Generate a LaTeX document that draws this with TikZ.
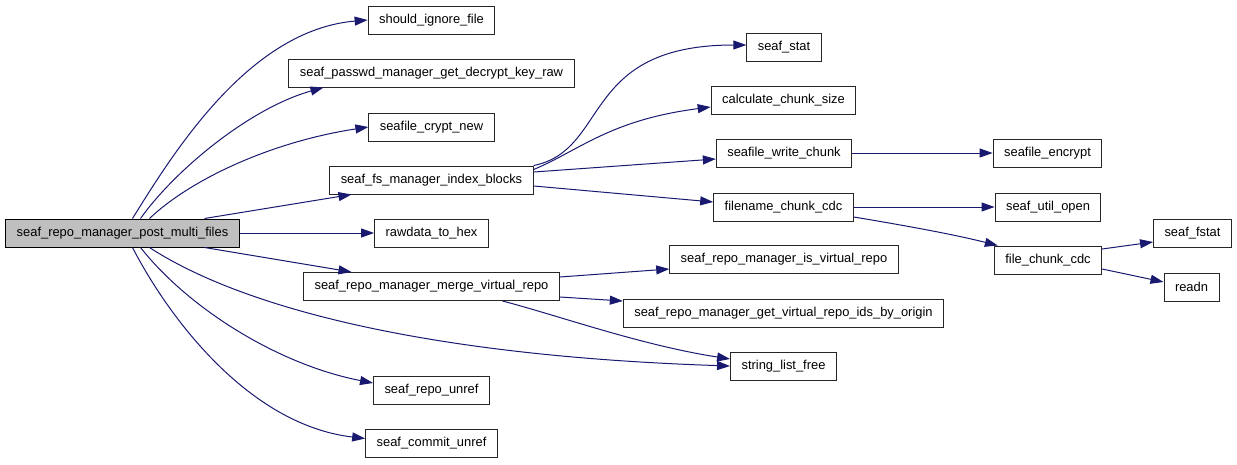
\documentclass[tikz,border=0pt]{standalone}
\usepackage{fontspec}
\setmainfont{Liberation Sans}
\usepackage{xcolor}
\usepackage{tikz}
\usetikzlibrary{
    positioning,
    arrows.meta,
}
\definecolor{edgeblue}{HTML}{191970}
\definecolor{boxgray}{HTML}{BFBFBF}
\tikzset{
    % Basic node styles
    fn/.style={rectangle, draw=black!85, line width=1pt, minimum height=28pt,
               inner xsep=11pt, inner ysep=0pt, fill=white,
               font=\fontsize{12.9}{15}\selectfont},
    root fn/.style={fn, fill=boxgray, draw=black},
    % Arrow styles
    call/.style={-{Triangle[length=13pt, width=9pt]}, line width=1pt, edgeblue},
}

\begin{document}
\begin{tikzpicture}[x=1pt, y=-1pt]
    \useasboundingbox (0,0) rectangle (1237,464);

    % caller
    \node[root fn] (post) at (122.5, 233) {seaf\_repo\_manager\_post\_multi\_files};

    % first level
    \node[fn] (ignore) at (431.5, 20) {should\_ignore\_file};
    \node[fn] (passwd) at (431.5, 73) {seaf\_passwd\_manager\_get\_decrypt\_key\_raw};
    \node[fn] (crypt) at (431.5, 127) {seafile\_crypt\_new};
    \node[fn] (index) at (431.5, 180) {seaf\_fs\_manager\_index\_blocks};
    \node[fn] (hex) at (431.5, 233) {rawdata\_to\_hex};
    \node[fn] (merge) at (431.5, 286.5) {seaf\_repo\_manager\_merge\_virtual\_repo};
    \node[fn] (repounref) at (431.5, 390.5) {seaf\_repo\_unref};
    \node[fn] (commitunref) at (431.5, 443.5) {seaf\_commit\_unref};

    % second level
    \node[fn] (stat) at (784, 47) {seaf\_stat};
    \node[fn] (chunksize) at (783.5, 100) {calculate\_chunk\_size};
    \node[fn] (writechunk) at (784, 153) {seafile\_write\_chunk};
    \node[fn] (fnamecdc) at (783.5, 207) {filename\_chunk\_cdc};
    \node[fn] (isvirtual) at (784, 259.5) {seaf\_repo\_manager\_is\_virtual\_repo};
    \node[fn] (virtualids) at (783.5, 313) {seaf\_repo\_manager\_get\_virtual\_repo\_ids\_by\_origin};
    \node[fn] (listfree) at (783.5, 366) {string\_list\_free};

    % third level
    \node[fn] (encrypt) at (1047.5, 153) {seafile\_encrypt};
    \node[fn] (utilopen) at (1048, 207) {seaf\_util\_open};
    \node[fn] (filecdc) at (1048, 260) {file\_chunk\_cdc};

    % fourth level
    \node[fn] (fstat) at (1192.5, 233) {seaf\_fstat};
    \node[fn] (readn) at (1191.5, 287) {readn};

    % calls from post_multi_files
    \draw[call] ([xshift=10pt]post.north) .. controls (175,150) and (250,30) .. (ignore.west);
    \draw[call] ([xshift=18pt]post.north) .. controls (175,170) and (250,108) .. ([xshift=-108pt]passwd.south);
    \draw[call] ([xshift=27pt]post.north) .. controls (190,180) and (270,142) .. (crypt.west);
    \draw[call] ([xshift=82pt]post.north) -- ([xshift=-80pt]index.south);
    \draw[call] (post.east) -- (hex.west);
    \draw[call] ([xshift=82pt]post.south) -- ([xshift=-80pt]merge.north);
    \draw[call] ([xshift=27pt]post.south) .. controls (230,300) and (400,355) .. (listfree.west);
    \draw[call] ([xshift=18pt]post.south) .. controls (190,310) and (280,365) .. ([yshift=7.5pt]repounref.west);
    \draw[call] ([xshift=10pt]post.south) .. controls (170,320) and (250,425) .. ([yshift=5pt]commitunref.west);

    % calls from index_blocks
    \draw[call] (index.north east) .. controls (610,150) and (580,45) .. ([yshift=2pt]stat.west);
    \draw[call] ([yshift=-4pt]index.north east) .. controls (580,150) and (610,120) .. ([yshift=-7pt]chunksize.west);
    \draw[call] ([yshift=8pt]index.east) -- ([yshift=-6pt]writechunk.west);
    \draw[call] ([yshift=-6pt]index.east) -- ([yshift=5pt]fnamecdc.west);

    % calls from merge_virtual_repo
    \draw[call] ([yshift=9.5pt]merge.east) -- ([yshift=-9.5pt]isvirtual.west);
    \draw[call] ([yshift=-10.5pt]merge.east) -- ([yshift=12pt]virtualids.west);
    \draw[call] ([xshift=71pt]merge.south) .. controls (560,316) and (640,345) .. ([yshift=7pt]listfree.west);

    % deeper calls
    \draw[call] (writechunk.east) -- (encrypt.west);
    \draw[call] (fnamecdc.east) -- (utilopen.west);
    \draw[call] ([yshift=-10pt]fnamecdc.east) .. controls (920,228) and (960,236) .. ([xshift=4pt]filecdc.north west);
    \draw[call] ([yshift=11pt]filecdc.east) -- ([yshift=-9pt]fstat.west);
    \draw[call] ([yshift=-9pt]filecdc.east) -- ([yshift=5pt]readn.west);
\end{tikzpicture}
\end{document}
